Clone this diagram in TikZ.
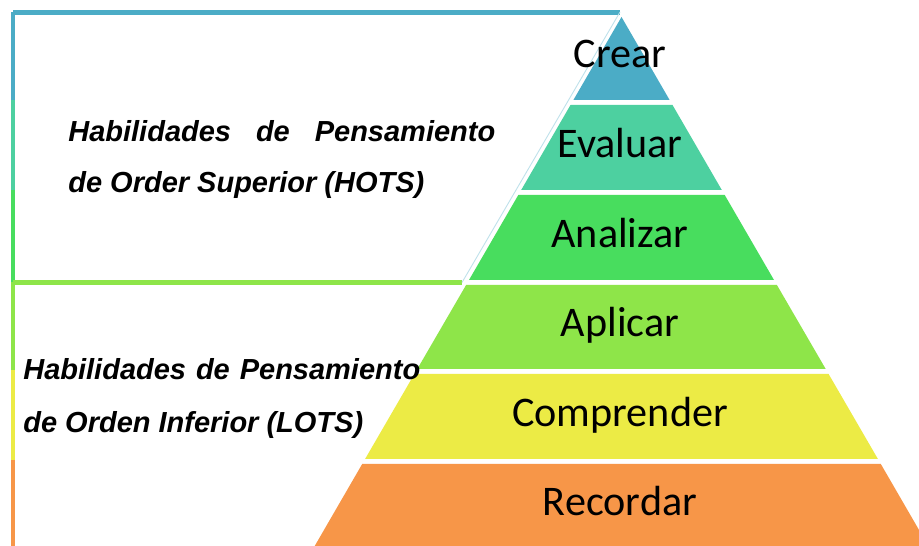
\documentclass[tikz,border=0pt]{standalone}
\usepackage{fontspec}
\setmainfont{Liberation Sans}
\newfontfamily\nivelfont{Carlito}

\definecolor{crearcol}{RGB}{75,172,198}
\definecolor{evaluarcol}{RGB}{77,208,160}
\definecolor{analizarcol}{RGB}{72,221,94}
\definecolor{aplicarcol}{RGB}{142,229,73}
\definecolor{comprendercol}{RGB}{236,235,69}
\definecolor{recordarcol}{RGB}{247,150,72}
\definecolor{bordetenue}{RGB}{190,225,235}

\begin{document}
\begin{tikzpicture}[x=0.02cm, y=-0.02cm,
    nivel/.style={font=\nivelfont\fontsize{24}{28}\selectfont, anchor=base, inner sep=0pt},
    lado/.style={font=\bfseries\itshape\fontsize{16.5}{20}\selectfont, anchor=base west, inner sep=0pt},
    borde/.style={line width=2.4pt}]
    \useasboundingbox (0,0) rectangle (919,546);
    \clip (0,0) rectangle (919,546);
    \fill[white] (0,0) rectangle (919,546);

    % Marco izquierdo
    \draw[borde, crearcol] (13,12.5) -- (620,12.5);
    \draw[borde, crearcol] (13,12) -- (13,100);
    \draw[borde, evaluarcol] (13,100) -- (13,190);
    \draw[borde, analizarcol] (13,190) -- (13,282);
    \draw[borde, aplicarcol] (13,282) -- (13,370);
    \draw[borde, comprendercol] (13,370) -- (13,460);
    \draw[borde, recordarcol] (13,460) -- (13,546);
    \draw[borde, aplicarcol] (13,282.5) -- (462,282.5);
    \draw[line width=0.5pt, bordetenue] (620,12) -- (462,282.5);

    % Niveles de la piramide
    \fill[crearcol] (621.5,17) -- (669.6,100) -- (573.4,100) -- cycle;
    \fill[evaluarcol] (570.5,105) -- (672.5,105) -- (721.8,190) -- (521.2,190) -- cycle;
    \fill[analizarcol] (518.3,195) -- (724.7,195) -- (774,280) -- (469,280) -- cycle;
    \fill[aplicarcol] (466.1,285) -- (776.9,285) -- (825.7,369) -- (417.3,369) -- cycle;
    \fill[comprendercol] (414.4,374) -- (828.6,374) -- (877.9,459) -- (365.1,459) -- cycle;
    \fill[recordarcol] (362.2,464) -- (880.8,464) -- (936.4,560) -- (306.6,560) -- cycle;

    % Etiquetas
    \node[nivel] (crear) at (620,68) {Crear};
    \node[nivel] (evaluar) at (620,158) {Evaluar};
    \node[nivel] (analizar) at (620,248) {Analizar};
    \node[nivel] (aplicar) at (620,337) {Aplicar};
    \node[nivel] (comprender) at (620,427) {Comprender};
    \node[nivel] (recordar) at (620,516) {Recordar};

    % Textos laterales
    \node[lado] (hots1) at (68,142) {\makebox[8.54cm][l]{Habilidades\hfill de\hfill Pensamiento}};
    \node[lado] (hots2) at (68,193) {de Order Superior (HOTS)};
    \node[lado] (lots1) at (23,380) {\makebox[7.94cm][l]{Habilidades\hfill de\hfill Pensamiento}};
    \node[lado] (lots2) at (23,433) {de Orden Inferior (LOTS)};
\end{tikzpicture}
\end{document}
